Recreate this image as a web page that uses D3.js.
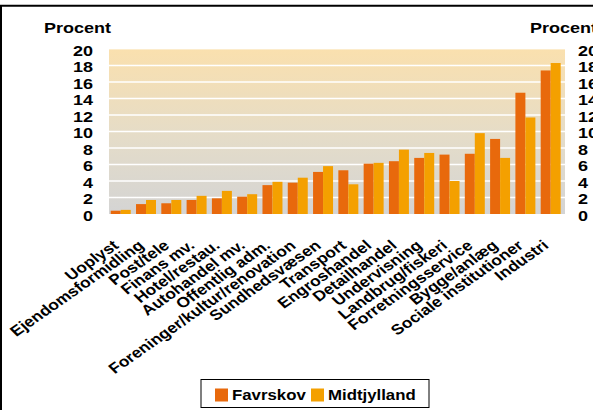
<!DOCTYPE html>
<html>
<head>
<meta charset="utf-8">
<script src="https://cdn.jsdelivr.net/npm/d3@7"></script>
<style>
  body { margin: 0; background: #fff; }
  text { font-family: Arial, "Liberation Sans", sans-serif; font-weight: bold; fill: #000; }
</style>
</head>
<body>
<svg id="plot" width="593" height="410"></svg>
<script>
const categories = ["Uoplyst", "Ejendomsformidling", "Post/tele", "Finans mv.", "Hotel/restau.",
  "Autohandel mv.", "Offentlig adm.", "Foreninger/kultur/renovation", "Sundhedsvæsen", "Transport",
  "Engroshandel", "Detailhandel", "Undervisning", "Landbrug/fiskeri", "Forretningsservice",
  "Bygge/anlæg", "Sociale institutioner", "Industri"];
const favrskov    = [0.4, 1.2, 1.3, 1.7, 1.9, 2.1, 3.5, 3.8, 5.1, 5.3, 6.1, 6.4, 6.8, 7.2, 7.3, 9.1, 14.7, 17.4];
const midtjylland = [0.5, 1.7, 1.7, 2.2, 2.8, 2.4, 3.9, 4.4, 5.8, 3.6, 6.2, 7.8, 7.4, 4.0, 9.8, 6.8, 11.7, 18.3];
const seriesNames = ["Favrskov", "Midtjylland"];
const yTicks = [0, 2, 4, 6, 8, 10, 12, 14, 16, 18, 20];

const colors = ["#e8690c", "#f4a000"];
const svg = d3.select("#plot");
const stretch = 1.2; // text in the picture is drawn wide

const plot = {left: 109, right: 565, top: 49, bottom: 214};

const x = d3.scaleBand().domain(categories).range([108.2, 563.2]).paddingInner(0.21).paddingOuter(0.1);
const xs = d3.scaleBand().domain(seriesNames).range([0, x.bandwidth()]);
const y = d3.scaleLinear().domain([0, 20]).range([plot.bottom, plot.top]);

// frame (partly cut off)
svg.append("line").attr("x1", 0).attr("x2", 593).attr("y1", 5.7).attr("y2", 5.7)
  .attr("stroke", "#000").attr("stroke-width", 2);
svg.append("line").attr("x1", 1).attr("x2", 1).attr("y1", 5).attr("y2", 410)
  .attr("stroke", "#000").attr("stroke-width", 2);

// background gradient
const grad = svg.append("defs").append("linearGradient").attr("id", "bg")
  .attr("x1", 0).attr("y1", 0).attr("x2", 0).attr("y2", 1);
grad.append("stop").attr("offset", "0%").attr("stop-color", "#fae0ae");
grad.append("stop").attr("offset", "55%").attr("stop-color", "#e4dcc9");
grad.append("stop").attr("offset", "100%").attr("stop-color", "#d4d4d4");

svg.append("rect").attr("x", plot.left).attr("y", plot.top)
  .attr("width", plot.right - plot.left).attr("height", plot.bottom - plot.top)
  .attr("fill", "url(#bg)");

// grid
svg.append("g").selectAll("line").data(yTicks.filter(d => d > 0)).join("line")
  .attr("x1", plot.left).attr("x2", plot.right)
  .attr("y1", d => y(d)).attr("y2", d => y(d))
  .attr("stroke", "#fff").attr("stroke-width", 1.3)
  .attr("stroke-opacity", d => d == 20 ? 0.5 : 1);

// bars
const groups = svg.append("g").selectAll("g").data(categories).join("g")
  .attr("transform", d => `translate(${x(d)},0)`);
groups.selectAll("rect")
  .data((d, i) => [favrskov[i], midtjylland[i]].map((v, k) => ({name: seriesNames[k], v: v, k: k})))
  .join("rect")
  .attr("x", d => xs(d.name))
  .attr("width", xs.bandwidth())
  .attr("y", d => y(d.v))
  .attr("height", d => y(0) - y(d.v))
  .attr("fill", d => colors[d.k]);

// y axes
const yLeft = svg.append("g").attr("transform", "translate(93,0)")
  .call(d3.axisLeft(y).tickValues(yTicks).tickSize(0).tickPadding(0));
const yRight = svg.append("g").attr("transform", "translate(578,0)")
  .call(d3.axisRight(y).tickValues(yTicks).tickSize(0).tickPadding(0));
[yLeft, yRight].forEach(g => {
  g.select(".domain").remove();
  g.selectAll(".tick text")
    .attr("x", 0).attr("dy", "0.42em")
    .attr("transform", `scale(${stretch},1)`)
    .style("font-size", "15px").style("font-family", "Arial, 'Liberation Sans', sans-serif")
    .style("font-weight", "bold").attr("fill", "#000");
});

// axis titles
function wideText(px, py, txt, size, anchor) {
  svg.append("text").attr("transform", `translate(${px},${py}) scale(${stretch},1)`)
    .attr("text-anchor", anchor || "start").style("font-size", size + "px").text(txt);
}
wideText(44, 33, "Procent", 15);
wideText(530, 33, "Procent", 15);

// x axis with slanted labels
const xAxis = svg.append("g").attr("transform", `translate(0,${plot.bottom})`)
  .call(d3.axisBottom(x).tickSize(0));
xAxis.select(".domain").remove();
xAxis.selectAll(".tick text")
  .attr("x", 0).attr("y", 0).attr("dy", 0)
  .attr("text-anchor", "end")
  .attr("transform", `translate(-1,33) scale(${stretch},1) rotate(-40)`)
  .style("font-size", "14.5px").style("font-family", "Arial, 'Liberation Sans', sans-serif")
  .style("font-weight", "bold").attr("fill", "#000");

// legend
svg.append("rect").attr("x", 201).attr("y", 379.5).attr("width", 228).attr("height", 28)
  .attr("fill", "#fff").attr("stroke", "#000").attr("stroke-width", 1);
const legendX = [215, 311];
seriesNames.forEach((s, i) => {
  svg.append("rect").attr("x", legendX[i]).attr("y", 388.5).attr("width", 13).attr("height", 13)
    .attr("fill", colors[i]);
  wideText(legendX[i] + 17, 400, s, 14);
});
</script>
</body>
</html>
